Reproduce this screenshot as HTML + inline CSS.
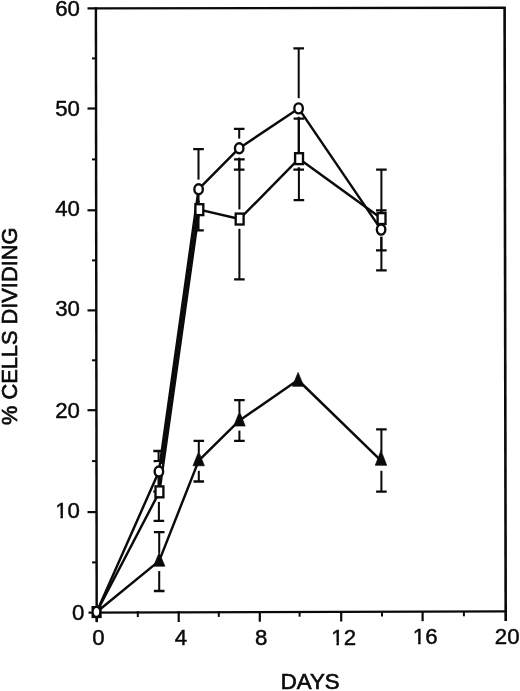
<!DOCTYPE html>
<html lang="en"><head><meta charset="utf-8"><title>% Cells dividing vs days</title>
<style>html,body{margin:0;padding:0;background:#fff}svg{display:block}text{font-family:"Liberation Sans",Arial,Helvetica,sans-serif;fill:#0a0a0a;stroke:#0a0a0a;stroke-width:0.45px}</style></head><body>
<svg width="520" height="691" viewBox="0 0 520 691">
<rect width="520" height="691" fill="#fff"/>
<g stroke="#0a0a0a" fill="none" stroke-linecap="butt">
<path d="M87.5 8.35 L505.6 7.7" stroke-width="2.4"/>
<path d="M95.9 7.2 L96.7 621.5" stroke-width="2.45"/>
<path d="M504.6 7 L505.7 621" stroke-width="2.6"/>
<path d="M88.5 612.6 L506.9 611.3" stroke-width="2.35"/>
<path d="M87.5 512.1 H96" stroke-width="2.2"/>
<path d="M87.5 410.2 H96" stroke-width="2.2"/>
<path d="M87.5 310.4 H96" stroke-width="2.2"/>
<path d="M87.5 210.3 H96" stroke-width="2.2"/>
<path d="M87.5 108.5 H96" stroke-width="2.2"/>
<path d="M92 562.4 H96" stroke-width="2"/>
<path d="M92 461.1 H96" stroke-width="2"/>
<path d="M92 360.3 H96" stroke-width="2"/>
<path d="M92 260.4 H96" stroke-width="2"/>
<path d="M92 159.4 H96" stroke-width="2"/>
<path d="M92 58.4 H96" stroke-width="2"/>
<path d="M96.8 611 V622.2" stroke-width="2.2"/>
<path d="M178.7 611 V622.0" stroke-width="2.2"/>
<path d="M259.8 611 V621.7" stroke-width="2.2"/>
<path d="M341.2 611 V621.5" stroke-width="2.2"/>
<path d="M422.6 611 V621.2" stroke-width="2.2"/>
<path d="M137.8 611 V617.1" stroke-width="2"/>
<path d="M218.8 611 V616.9" stroke-width="2"/>
<path d="M299.6 611 V616.7" stroke-width="2"/>
<path d="M382 611 V616.5" stroke-width="2"/>
<path d="M463.9 611 V616.3" stroke-width="2"/>
</g>
<g stroke="#0a0a0a" fill="none">
<path d="M158.6 451.0 V491.7" stroke-width="2.05"/>
<path d="M153.3 451.0 h10.6 M153.3 491.7 h10.6" stroke-width="2.3"/>
<path d="M198.5 149.2 V230.3" stroke-width="2.05"/>
<path d="M193.2 149.2 h10.6 M193.2 230.3 h10.6" stroke-width="2.3"/>
<path d="M239.2 128.9 V169.6" stroke-width="2.05"/>
<path d="M233.9 128.9 h10.6 M233.9 169.6 h10.6" stroke-width="2.3"/>
<path d="M298.7 48.4 V169.6" stroke-width="2.05"/>
<path d="M293.4 48.4 h10.6 M293.4 169.6 h10.6" stroke-width="2.3"/>
<path d="M381.3 210.3 V250.3" stroke-width="2.05"/>
<path d="M376.0 210.3 h10.6 M376.0 250.3 h10.6" stroke-width="2.3"/>
<path d="M158.9 461.1 V520.9" stroke-width="2.05"/>
<path d="M153.6 461.1 h10.6 M153.6 520.9 h10.6" stroke-width="2.3"/>
<path d="M239.4 159.4 V279.4" stroke-width="2.05"/>
<path d="M234.1 159.4 h10.6 M234.1 279.4 h10.6" stroke-width="2.3"/>
<path d="M298.9 118.7 V200.1" stroke-width="2.05"/>
<path d="M293.6 118.7 h10.6 M293.6 200.1 h10.6" stroke-width="2.3"/>
<path d="M381.4 169.6 V270.4" stroke-width="2.05"/>
<path d="M376.1 169.6 h10.6 M376.1 270.4 h10.6" stroke-width="2.3"/>
<path d="M159.2 532.2 V591.0" stroke-width="2.05"/>
<path d="M153.9 532.2 h10.6 M153.9 591.0 h10.6" stroke-width="2.3"/>
<path d="M198.8 440.8 V481.5" stroke-width="2.05"/>
<path d="M193.5 440.8 h10.6 M193.5 481.5 h10.6" stroke-width="2.3"/>
<path d="M239.4 400.2 V440.8" stroke-width="2.05"/>
<path d="M234.1 400.2 h10.6 M234.1 440.8 h10.6" stroke-width="2.3"/>
<path d="M381.4 429.4 V491.7" stroke-width="2.05"/>
<path d="M376.1 429.4 h10.6 M376.1 491.7 h10.6" stroke-width="2.3"/>
<path d="M196.6 201.6 h3.4" stroke-width="1.6"/>
</g>
<g fill="#fff" stroke="none">
<rect x="156.4" y="462.0" width="5" height="9.5"/>
<rect x="156.9" y="491.9" width="5" height="10.0"/>
<rect x="196.1" y="179.6" width="5" height="9.6"/>
<rect x="236.7" y="138.6" width="5" height="19.0"/>
<rect x="237.1" y="209.4" width="5" height="19.4"/>
<rect x="296.1" y="98.2" width="5" height="18.5"/>
<rect x="296.5" y="158.7" width="5" height="8.6"/>
<rect x="378.6" y="229.6" width="5" height="7.0"/>
<rect x="156.7" y="552.9" width="5" height="18.2"/>
<rect x="196.2" y="452.6" width="5" height="18.2"/>
<rect x="237.0" y="412.4" width="5" height="18.2"/>
<rect x="295.5" y="372.0" width="5" height="18.2"/>
<rect x="378.5" y="452.6" width="5" height="18.2"/>
</g>
<g stroke="#0a0a0a" fill="none" stroke-width="2.45" stroke-linejoin="round">
<polyline points="96.7,612 158.9,471.5 198.6,189.2 239.2,148.2 298.6,108.4 381.1,229.6"/>
<polyline points="96.7,612 159.4,491.9 199.3,209.6 239.6,219 299,158.7 381.5,218.5"/>
<polyline points="96.7,612 159.2,560.9 198.7,460.6 239.5,420.4 298,380 381,460.6"/>
<path d="M161.6 464 L196.9 214" stroke-width="2.2"/>
</g>
<g stroke="#0a0a0a" stroke-width="2.35" fill="#fff">
<path d="M159.2 552.6 L164.9 566.2 H153.5 Z" fill="#0a0a0a" stroke-width="0.7" stroke-linejoin="round"/>
<path d="M198.7 451.5 L204.4 465.8 H193.0 Z" fill="#0a0a0a" stroke-width="0.7" stroke-linejoin="round"/>
<path d="M239.5 411.6 L245.2 426.0 H233.8 Z" fill="#0a0a0a" stroke-width="0.7" stroke-linejoin="round"/>
<path d="M298.1 372.4 L303.8 386.3 H292.4 Z" fill="#0a0a0a" stroke-width="0.7" stroke-linejoin="round"/>
<path d="M381 450.4 L386.7 465.3 H375.3 Z" fill="#0a0a0a" stroke-width="0.7" stroke-linejoin="round"/>
<rect x="155.5" y="486.4" width="7.9" height="10.9"/>
<rect x="195.4" y="204.2" width="7.9" height="10.9"/>
<rect x="235.7" y="213.6" width="7.9" height="10.9"/>
<rect x="295.1" y="153.2" width="7.9" height="10.9"/>
<rect x="377.6" y="213.1" width="7.9" height="10.9"/>
<ellipse cx="158.9" cy="471.5" rx="4.25" ry="5.0"/>
<ellipse cx="198.6" cy="189.2" rx="4.25" ry="5.0"/>
<ellipse cx="239.2" cy="148.2" rx="4.25" ry="5.0"/>
<ellipse cx="298.6" cy="108.4" rx="4.25" ry="5.0"/>
<ellipse cx="381.1" cy="229.6" rx="4.25" ry="5.0"/>
<rect x="91.5" y="606" width="10.2" height="12.1" fill="#0a0a0a" stroke="none"/>
<ellipse cx="96.45" cy="611.85" rx="2.7" ry="3.9" stroke="none" fill="#fff"/>
</g>
<text transform="translate(79.9 518.0) scale(1.035 1)" font-size="21.5" text-anchor="end">10</text>
<text transform="translate(79.9 417.7) scale(1.035 1)" font-size="21.5" text-anchor="end">20</text>
<text transform="translate(79.9 316.0) scale(1.035 1)" font-size="21.5" text-anchor="end">30</text>
<text transform="translate(79.9 215.8) scale(1.035 1)" font-size="21.5" text-anchor="end">40</text>
<text transform="translate(79.9 116.2) scale(1.035 1)" font-size="21.5" text-anchor="end">50</text>
<text transform="translate(79.9 15.7) scale(1.035 1)" font-size="21.5" text-anchor="end">60</text>
<text transform="translate(84.5 619.6) scale(1.035 1)" font-size="21.5" text-anchor="end">0</text>
<text transform="translate(98.5 645.2) scale(1.035 1)" font-size="21.5" text-anchor="middle">0</text>
<text transform="translate(180.9 645.0) scale(1.035 1)" font-size="21.5" text-anchor="middle">4</text>
<text transform="translate(261.3 645.1) scale(1.035 1)" font-size="21.5" text-anchor="middle">8</text>
<text transform="translate(343.7 644.8) scale(1.035 1)" font-size="21.5" text-anchor="middle">12</text>
<text transform="translate(425.2 644.1) scale(1.035 1)" font-size="21.5" text-anchor="middle">16</text>
<text transform="translate(507.2 643.9) scale(1.035 1)" font-size="21.5" text-anchor="middle">20</text>
<text transform="translate(310.1 689.3) scale(1.03 1)" font-size="21.6" text-anchor="middle" style="stroke-width:0.65px">DAYS</text>
<text transform="translate(17.2 326.3) scale(1.04 1) rotate(-90)" font-size="21.8" text-anchor="middle" style="stroke-width:0.65px">% CELLS DIVIDING</text>
<g fill="#fff" stroke="none">
<rect x="331.5" y="641.9" width="4.95" height="4.3"/><rect x="338.95" y="641.9" width="5.35" height="4.3"/>
<rect x="413" y="641.2" width="5.15" height="4.3"/><rect x="420.65" y="641.2" width="5.15" height="4.3"/>
<rect x="55.5" y="515.1" width="4.95" height="4.3"/><rect x="62.95" y="515.1" width="4.25" height="4.3"/>
</g>
</svg></body></html>
